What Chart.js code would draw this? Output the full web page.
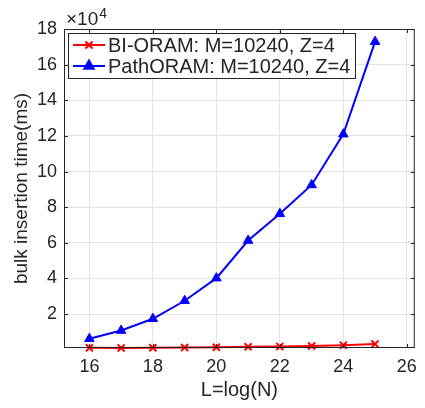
<!DOCTYPE html>
<html>
<head>
<meta charset="utf-8">
<script src="https://cdn.jsdelivr.net/npm/chart.js@4"></script>
<style>
  html, body { margin: 0; padding: 0; background: #fff; }
</style>
</head>
<body>
<canvas id="chart" width="425" height="408"></canvas>
<script>
const levels = [16, 17, 18, 19, 20, 21, 22, 23, 24, 25];
const biOramTime = [1100, 1050, 1150, 1250, 1400, 1650, 1900, 2100, 2600, 3200];
const pathOramTime = [6200, 10800, 17400, 27500, 40200, 61300, 76300, 92500, 121000, 172900];
const seriesLabels = ['BI-ORAM: M=10240, Z=4', 'PathORAM: M=10240, Z=4'];
const xTicks = [16, 18, 20, 22, 24, 26];
const yTicks = [20000, 40000, 60000, 80000, 100000, 120000, 140000, 160000, 180000];

const FONT = '"Liberation Sans", Arial, Helvetica, sans-serif';
const INK = '#262626';

// matlab-ish box, inward ticks, x10^4 label and the legend inside the axes
const matlabAxes = {
  id: 'matlabAxes',
  afterDatasetsDraw(chart) {
    const { ctx, chartArea: a, scales: { x, y } } = chart;
    ctx.save();
    ctx.strokeStyle = INK;
    ctx.lineWidth = 1;
    ctx.strokeRect(a.left + 0.5, a.top + 0.5, a.right - a.left - 1, a.bottom - a.top - 1);
    ctx.beginPath();
    const tl = 4;
    xTicks.forEach(v => {
      const px = Math.round(x.getPixelForValue(v)) + 0.5;
      ctx.moveTo(px, a.bottom); ctx.lineTo(px, a.bottom - tl);
      ctx.moveTo(px, a.top); ctx.lineTo(px, a.top + tl);
    });
    yTicks.forEach(v => {
      const py = Math.round(y.getPixelForValue(v)) + 0.5;
      ctx.moveTo(a.left, py); ctx.lineTo(a.left + tl, py);
      ctx.moveTo(a.right, py); ctx.lineTo(a.right - tl, py);
    });
    ctx.stroke();

    // exponent
    ctx.fillStyle = INK;
    ctx.textBaseline = 'alphabetic';
    ctx.font = '19px ' + FONT;
    ctx.fillText('\u00d710', a.left + 2, 25);
    const w = ctx.measureText('\u00d710').width;
    ctx.font = '14px ' + FONT;
    ctx.fillText('4', a.left + 2 + w + 1, 18);
    ctx.restore();
  },
  afterDraw(chart) {
    const { ctx } = chart;
    ctx.save();
    const bx = 68.5, by = 33.5, bw = 287, bh = 45;
    ctx.fillStyle = '#fff';
    ctx.fillRect(bx, by, bw, bh);
    ctx.strokeStyle = INK;
    ctx.lineWidth = 1;
    ctx.strokeRect(bx, by, bw, bh);
    chart.data.datasets.forEach((ds, i) => {
      const ry = 45 + i * 21;
      ctx.strokeStyle = ds.borderColor;
      ctx.fillStyle = ds.pointBackgroundColor;
      ctx.lineWidth = 2;
      ctx.beginPath();
      ctx.moveTo(73, ry); ctx.lineTo(105, ry);
      ctx.stroke();
      Chart.helpers.drawPoint(ctx, {
        pointStyle: ds.pointStyle, radius: ds.pointRadius, rotation: 0, borderWidth: ds.pointBorderWidth
      }, 89, ry);
      ctx.fillStyle = INK;
      ctx.font = '20px ' + FONT;
      ctx.textBaseline = 'middle';
      ctx.textAlign = 'left';
      ctx.fillText(ds.label, 108, ry + 1);
    });
    ctx.restore();
  }
};

new Chart(document.getElementById('chart'), {
  type: 'line',
  data: {
    datasets: [
      {
        label: seriesLabels[0],
        data: levels.map((l, i) => ({ x: l, y: biOramTime[i] })),
        borderColor: '#ff0000',
        backgroundColor: '#ff0000',
        pointBackgroundColor: '#ff0000',
        borderWidth: 2,
        pointStyle: 'crossRot',
        pointRadius: 5,
        pointBorderWidth: 2,
        clip: false
      },
      {
        label: seriesLabels[1],
        data: levels.map((l, i) => ({ x: l, y: pathOramTime[i] })),
        borderColor: '#0000ff',
        backgroundColor: '#0000ff',
        pointBackgroundColor: '#0000ff',
        borderWidth: 2,
        pointStyle: 'triangle',
        pointRadius: 5.5,
        pointBorderWidth: 1,
        clip: false
      }
    ]
  },
  options: {
    responsive: false,
    animation: false,
    events: [],
    layout: { padding: { top: 29, right: 4, left: 0, bottom: 0 } },
    plugins: { legend: { display: false }, tooltip: { enabled: false } },
    scales: {
      x: {
        type: 'linear',
        min: 15.2,
        max: 26.25,
        afterBuildTicks: s => { s.ticks = xTicks.map(v => ({ value: v })); },
        afterFit: s => { s.height = 60; },
        grid: { color: '#e3e3e3', drawTicks: false },
        border: { display: false },
        ticks: { padding: 8, color: INK, font: { family: FONT, size: 18 } },
        title: {
          display: true, text: 'L=log(N)', color: INK,
          font: { family: FONT, size: 20 }, padding: { top: 0, bottom: 6 }
        }
      },
      y: {
        min: 1000,
        max: 180000,
        afterBuildTicks: s => { s.ticks = yTicks.map(v => ({ value: v })); },
        afterFit: s => { s.width = 64; },
        grid: { color: '#e3e3e3', drawTicks: false },
        border: { display: false },
        ticks: {
          padding: 7, color: INK, font: { family: FONT, size: 18 },
          callback: v => String(v / 10000)
        },
        title: {
          display: true, text: 'bulk insertion time(ms)', color: INK,
          font: { family: FONT, size: 19 }, padding: { top: 10, bottom: 0 }
        }
      }
    }
  },
  plugins: [matlabAxes]
});
</script>
</body>
</html>
